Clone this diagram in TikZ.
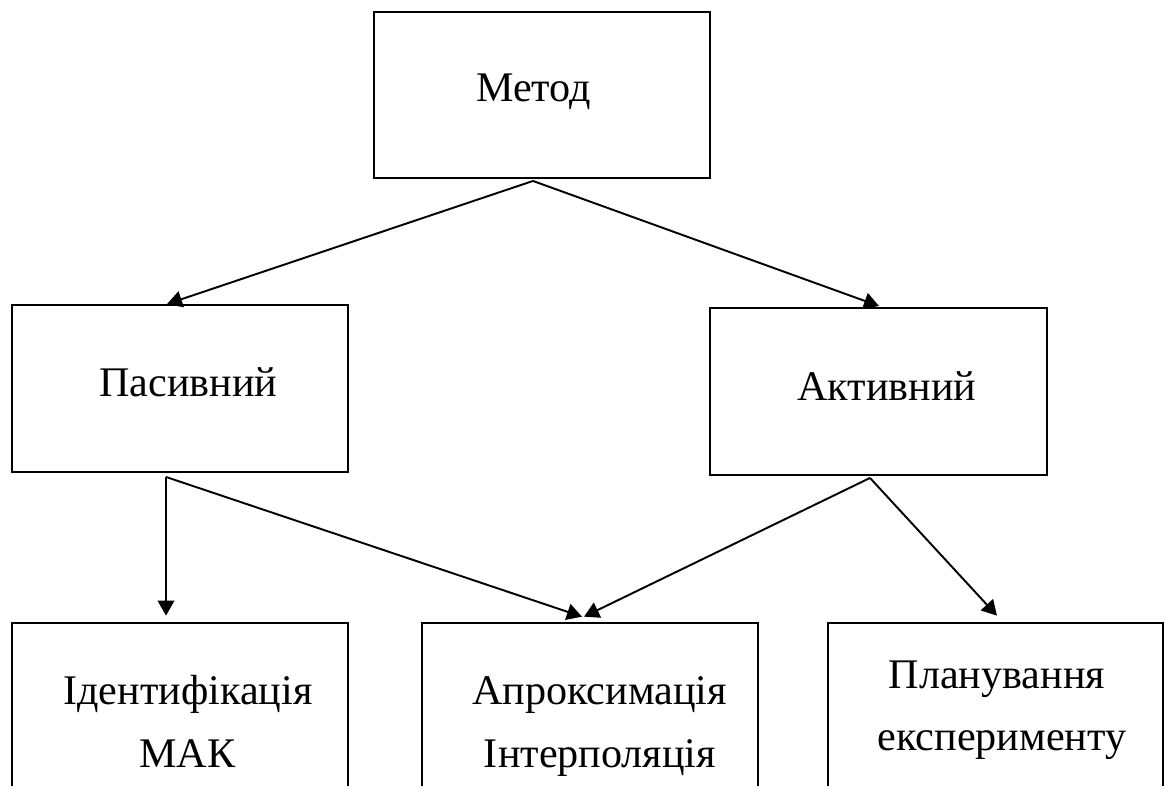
\documentclass[tikz,border=0pt]{standalone}
\usepackage{fontspec}
\setmainfont{Liberation Serif}
\usetikzlibrary{arrows.meta,calc}

\begin{document}
\begin{tikzpicture}[
    x=0.02cm, y=-0.02cm,
    box/.style={draw, line width=1.1pt, inner sep=0pt,
                minimum width=6.72cm, minimum height=3.34cm},
    openbox/.style={inner sep=0pt, minimum width=6.72cm, minimum height=3.28cm},
    lbl/.style={inner sep=0pt, anchor=base,
                font=\fontsize{24pt}{28pt}\selectfont},
    arr/.style={line width=1.1pt, -{Triangle[length=0.30cm, width=0.33cm]}},
    edge/.style={line width=1.1pt}
  ]
  \useasboundingbox (0,0) rectangle (1166,785);
  \fill[white] (0,0) rectangle (1166,785);

  % top level
  \node[box, minimum height=3.32cm] (metod) at (542,95) {};
  \node[lbl] (tmetod) at (533.5,101) {Метод};

  % second level
  \node[box] (pas) at (180,388.5) {};
  \node[lbl] (tpas) at (188.5,396) {Пасивний};
  \node[box, minimum width=6.74cm] (akt) at (878.5,391.5) {};
  \node[lbl] (takt) at (887,400) {Активний};

  % third level: boxes open at the lower edge
  \node[openbox] (ident) at (180,705) {};
  \node[openbox] (aprox) at (590,705) {};
  \node[openbox, minimum width=6.70cm] (plan) at (995.5,705) {};
  \foreach \b in {ident,aprox,plan}
    \draw[edge] (\b.south west) -- (\b.north west) -- (\b.north east) -- (\b.south east);

  \node[lbl] (tident1) at (188,704) {Ідентифікація};
  \node[lbl] (tident2) at (187.5,767) {МАК};
  \node[lbl] (taprox1) at (599.5,704) {Апроксимація};
  \node[lbl] (taprox2) at (600,767) {Інтерполяція};
  \node[lbl] (tplan1) at (997,688) {Планування};
  \node[lbl] (tplan2) at (1002,750) {експерименту};

  % connectors
  \coordinate (m0) at ($(metod.south)+(-9,2)$);
  \draw[arr] (m0) -- ($(pas.north)+(-13,0)$);
  \draw[arr] (m0) -- ($(akt.north)+(0.5,-1)$);

  \coordinate (p0) at ($(pas.south)+(-14,4)$);
  \draw[arr] (p0) -- ($(ident.north)+(-14,-7)$);
  \draw[arr] (p0) -- ($(aprox.north)+(-8,-6)$);

  \coordinate (a0) at ($(akt.south)+(-8.5,2)$);
  \draw[arr] (a0) -- ($(aprox.north)+(-6,-6)$);
  \draw[arr] (a0) -- ($(plan.north)+(1.5,-7)$);
\end{tikzpicture}
\end{document}
